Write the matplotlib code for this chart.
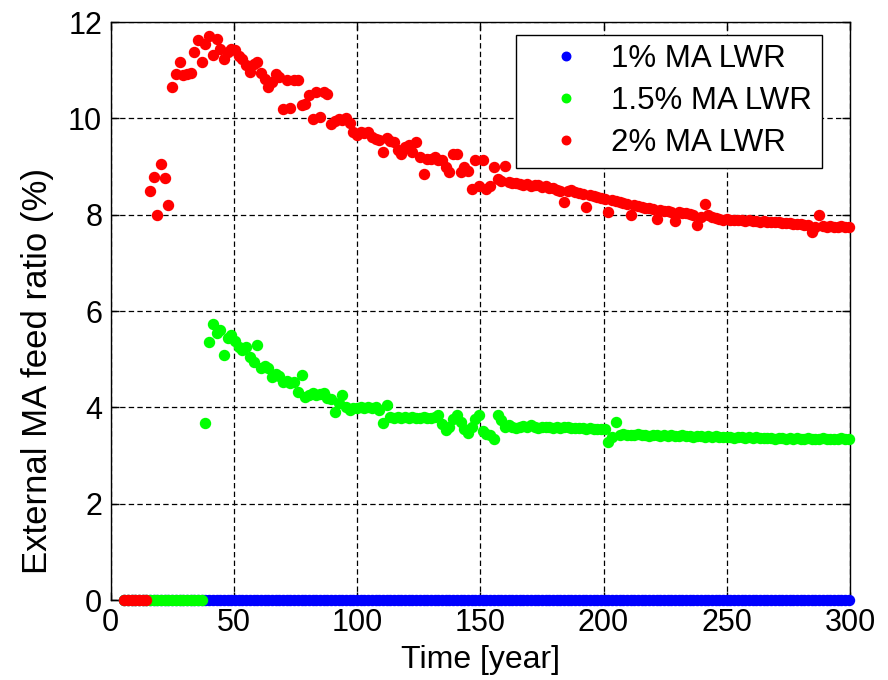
import numpy as np
import matplotlib
matplotlib.use("Agg")
import matplotlib.pyplot as plt

plt.rcParams['font.family'] = ['Liberation Sans', 'DejaVu Sans']

# common time grid (years)
time = np.arange(5.5, 300.0, 1.5)

series_labels = ["1% MA LWR", "1.5% MA LWR", "2% MA LWR"]
series_colors = ["#0000ff", "#00ff00", "#ff0000"]

# 1% MA LWR: no external feed needed
ma1_values = [0.0] * len(time)

# 1.5% MA LWR
ma15_zero = [0.0] * 22
ma15_values = [
    3.67, 5.36, 5.74, 5.55, 5.60, 5.08, 5.45, 5.50, 5.38, 5.26,
    5.20, 5.26, 5.05, 4.94, 5.29, 4.81, 4.85, 4.81, 4.63, 4.70,
    4.65, 4.53, 4.55, 4.50, 4.53, 4.32, 4.68, 4.22, 4.25, 4.30,
    4.25, 4.28, 4.29, 4.20, 4.18, 3.91, 4.10, 4.25, 4.00, 3.95,
    3.98, 3.98, 4.00, 3.98, 4.01, 3.98, 4.00, 3.95, 3.67, 4.05,
    3.80, 3.78, 3.80, 3.77, 3.80, 3.78, 3.80, 3.78, 3.77, 3.80,
    3.77, 3.78, 3.80, 3.84, 3.65, 3.53, 3.60, 3.75, 3.84, 3.70,
    3.55, 3.46, 3.60, 3.75, 3.84, 3.50, 3.45, 3.42, 3.35, 3.84,
    3.73, 3.60, 3.63, 3.60, 3.58, 3.60, 3.62, 3.60, 3.63, 3.60,
    3.58, 3.60, 3.59, 3.60, 3.58, 3.60, 3.57, 3.59, 3.60, 3.58,
    3.57, 3.58, 3.57, 3.56, 3.58, 3.56, 3.55, 3.56, 3.55, 3.28,
    3.38, 3.70, 3.42, 3.44, 3.43, 3.43, 3.42, 3.44, 3.42, 3.43,
    3.41, 3.42, 3.43, 3.41, 3.42, 3.40, 3.42, 3.41, 3.40, 3.42,
    3.40, 3.41, 3.39, 3.40, 3.41, 3.39, 3.40, 3.38, 3.40, 3.39,
    3.38, 3.39, 3.38, 3.37, 3.39, 3.38, 3.37, 3.38, 3.36, 3.38,
    3.37, 3.36, 3.37, 3.36, 3.35, 3.37, 3.36, 3.35, 3.36, 3.35,
    3.36, 3.35, 3.34, 3.36, 3.35, 3.34, 3.35, 3.36, 3.35, 3.34,
    3.35, 3.35, 3.36, 3.35, 3.35,
]

# 2% MA LWR
ma2_zero = [0.0] * 7
ma2_values = [
    8.50, 8.78, 7.99, 9.05, 8.77, 8.21, 10.65, 10.93, 11.17, 10.90,
    10.93, 10.95, 11.38, 11.63, 11.17, 11.55, 11.72, 11.31, 11.65, 11.45,
    11.24, 11.38, 11.45, 11.41, 11.30, 11.24, 11.10, 10.96, 11.13, 11.17,
    10.95, 10.82, 10.65, 10.75, 10.93, 10.85, 10.20, 10.79, 10.22, 10.80,
    10.79, 10.27, 10.30, 10.48, 9.99, 10.55, 10.03, 10.55, 10.50, 9.89,
    9.95, 9.98, 9.96, 10.00, 9.90, 9.72, 9.65, 9.72, 9.70, 9.72,
    9.62, 9.58, 9.55, 9.30, 9.60, 9.54, 9.50, 9.35, 9.27, 9.40,
    9.45, 9.30, 9.51, 9.20, 8.85, 9.16, 9.15, 9.20, 9.13, 9.13,
    9.00, 8.89, 9.27, 9.25, 8.89, 9.00, 8.90, 8.54, 9.13, 8.60,
    9.13, 8.54, 8.60, 9.00, 8.75, 8.70, 9.02, 8.68, 8.65, 8.66,
    8.64, 8.62, 8.64, 8.60, 8.62, 8.61, 8.58, 8.60, 8.55, 8.55,
    8.52, 8.50, 8.26, 8.50, 8.51, 8.47, 8.45, 8.42, 8.16, 8.40,
    8.38, 8.36, 8.35, 8.33, 8.06, 8.30, 8.28, 8.26, 8.25, 8.22,
    7.99, 8.20, 8.18, 8.16, 8.14, 8.13, 8.12, 7.92, 8.10, 8.08,
    8.07, 8.06, 7.87, 8.06, 8.04, 8.03, 8.02, 8.00, 7.78, 7.95,
    8.23, 8.00, 7.95, 7.93, 7.92, 7.90, 7.92, 7.90, 7.89, 7.90,
    7.88, 7.87, 7.88, 7.86, 7.86, 7.85, 7.86, 7.84, 7.85, 7.84,
    7.85, 7.83, 7.82, 7.83, 7.81, 7.80, 7.80, 7.79, 7.78, 7.64,
    7.75, 7.99, 7.76, 7.75, 7.76, 7.74, 7.75, 7.76, 7.74, 7.75,
]

x_ticks = [0, 50, 100, 150, 200, 250, 300]
y_ticks = [0, 2, 4, 6, 8, 10, 12]

fig = plt.figure(figsize=(8.88, 6.8), dpi=100)
ax = fig.add_axes([0.1245, 0.1176, 0.8327, 0.85])

all_series = [
    ma1_values,
    ma15_zero + ma15_values,
    ma2_zero + ma2_values,
]
for vals, lab, col in zip(all_series, series_labels, series_colors):
    ax.plot(time, vals, linestyle='none', marker='o', markersize=7.2,
            color=col, markeredgecolor=col, label=lab, clip_on=False, zorder=3)

ax.set_xlim(0, 300)
ax.set_ylim(0, 12)
ax.set_xticks(x_ticks)
ax.set_yticks(y_ticks)
ax.tick_params(direction='in', length=6, width=1, labelsize=22, pad=6,
               top=True, right=True)
ax.grid(True, color='black', linestyle=(0, (4.3, 2.6)), linewidth=0.9)
ax.set_axisbelow(True)
for s in ax.spines.values():
    s.set_linewidth(1.0)
    s.set_color('black')

ax.set_xlabel("Time [year]", fontsize=23, labelpad=5)
ax.set_ylabel("External MA feed ratio (%)", fontsize=25, labelpad=8)
ax.yaxis.set_label_coords(-0.077, 0.397)

leg = ax.legend(loc='upper right', bbox_to_anchor=(0.9615, 0.9775),
                borderaxespad=0, fontsize=22.5, fancybox=False, framealpha=1,
                edgecolor='black', handlelength=2.6, handletextpad=0.15,
                borderpad=0.3, labelspacing=0.38, markerscale=0.85)
leg.get_frame().set_linewidth(1.0)

fig.savefig("out.png", dpi=100)
